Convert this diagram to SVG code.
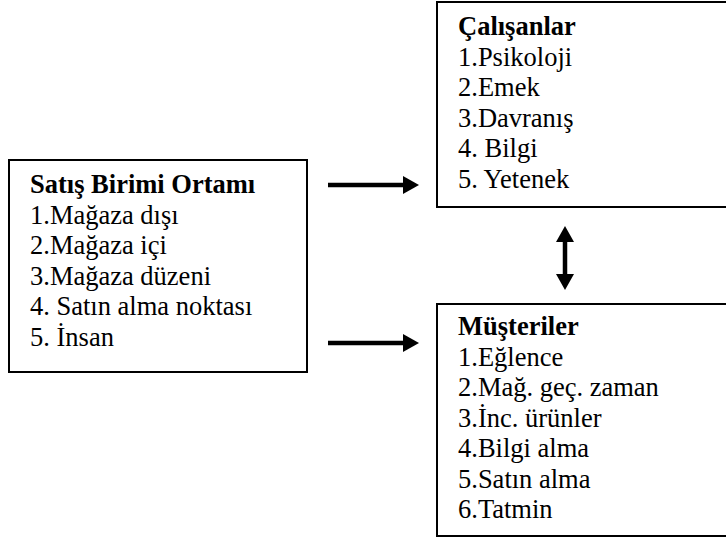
<svg xmlns="http://www.w3.org/2000/svg" width="726" height="541" viewBox="0 0 726 541">
<style>
.box{fill:#fff;stroke:#000;stroke-width:2}
.t{font-family:'Liberation Serif','Times New Roman',serif;font-size:26.5px;fill:#000}
.b{font-weight:bold}
.conn{stroke:#000;stroke-width:4.5;fill:none}
</style>
<defs>
<marker id="ah" markerUnits="userSpaceOnUse" markerWidth="16" markerHeight="18" refX="1" refY="9" orient="auto-start-reverse">
<path d="M0,0 L16,9 L0,18 z" fill="#000"/>
</marker>
</defs>
<rect width="726" height="541" fill="#fff"/>
<g id="satis">
<rect class="box" x="9" y="160" width="298" height="212"/>
<text class="t b" x="30" y="193">Satış Birimi Ortamı</text>
<text class="t" x="30" y="223.6">1.Mağaza dışı</text>
<text class="t" x="30" y="254.2">2.Mağaza içi</text>
<text class="t" x="30" y="284.8">3.Mağaza düzeni</text>
<text class="t" x="30" y="315.4">4. Satın alma noktası</text>
<text class="t" x="30" y="346">5. İnsan</text>
</g>
<g id="calisanlar">
<rect class="box" x="437" y="2" width="300" height="205"/>
<text class="t b" x="458" y="35">Çalışanlar</text>
<text class="t" x="458" y="65.6">1.Psikoloji</text>
<text class="t" x="458" y="96.2">2.Emek</text>
<text class="t" x="458" y="126.8">3.Davranış</text>
<text class="t" x="458" y="157.4">4. Bilgi</text>
<text class="t" x="458" y="188">5. Yetenek</text>
</g>
<g id="musteriler">
<rect class="box" x="437" y="304" width="300" height="232"/>
<text class="t b" x="458" y="335">Müşteriler</text>
<text class="t" x="458" y="365.5">1.Eğlence</text>
<text class="t" x="458" y="396">2.Mağ. geç. zaman</text>
<text class="t" x="458" y="426.5">3.İnc. ürünler</text>
<text class="t" x="458" y="457">4.Bilgi alma</text>
<text class="t" x="458" y="487.5">5.Satın alma</text>
<text class="t" x="458" y="518">6.Tatmin</text>
</g>
<g id="connectors">
<line class="conn" x1="328" y1="185" x2="404" y2="185" marker-end="url(#ah)"/>
<line class="conn" x1="328" y1="343" x2="404" y2="343" marker-end="url(#ah)"/>
<line class="conn" x1="565" y1="241" x2="565" y2="275" marker-start="url(#ah)" marker-end="url(#ah)"/>
</g>
</svg>
